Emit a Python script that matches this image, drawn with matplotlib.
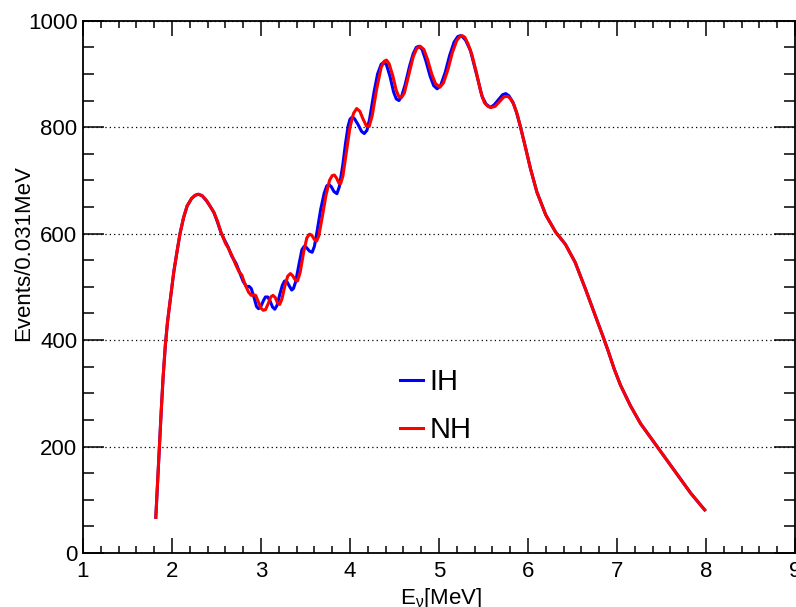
import numpy as np
import matplotlib
matplotlib.use("Agg")
import matplotlib.pyplot as plt
from matplotlib.ticker import MultipleLocator

plt.rcParams['font.family'] = ['Liberation Sans', 'DejaVu Sans']
plt.rcParams['mathtext.fontset'] = 'custom'
plt.rcParams['mathtext.rm'] = 'Liberation Sans'
plt.rcParams['mathtext.it'] = 'Liberation Sans'

## common rising edge of the spectrum
riseE = [1.818, 1.84, 1.86, 1.88, 1.90, 1.925, 1.95, 1.98, 2.02, 2.06, 2.09, 2.13, 2.17, 2.22, 2.26, 2.297]
riseN = [67, 140, 205, 270, 330, 390, 435, 475, 528, 570, 600, 630, 652, 666, 672, 674]

## common falling tail
tailE = [5.97, 6.028, 6.10, 6.20, 6.31, 6.42, 6.53, 6.65, 6.72, 6.78, 6.84, 6.90, 6.97, 7.04, 7.15, 7.265,
         7.45, 7.64, 7.83, 7.985]
tailN = [763, 722, 678, 635, 603, 580, 546, 494, 462, 435, 408, 380, 345, 315, 277, 243,
         200, 156, 112, 81]

## inverted hierarchy (blue), oscillating part
ihE = [2.34, 2.39, 2.43, 2.47, 2.51, 2.55, 2.59, 2.63, 2.67, 2.72, 2.76, 2.80, 2.84, 2.865,
       2.89, 2.92, 2.95, 2.972, 2.995, 3.03, 3.05, 3.075, 3.10, 3.13, 3.155, 3.18, 3.21, 3.24,
       3.265, 3.29, 3.32, 3.345, 3.365, 3.39, 3.43, 3.46, 3.485, 3.51, 3.545, 3.575, 3.60, 3.63,
       3.67, 3.71, 3.74, 3.765, 3.79, 3.82, 3.853, 3.88, 3.92, 3.95, 3.98, 4.00, 4.025, 4.05,
       4.09, 4.13, 4.16, 4.19, 4.22, 4.27, 4.31, 4.35, 4.38, 4.41, 4.45, 4.49, 4.52, 4.55,
       4.58, 4.62, 4.67, 4.71, 4.745, 4.775, 4.81, 4.85, 4.90, 4.94, 4.98, 5.02, 5.07, 5.12,
       5.17, 5.21, 5.24, 5.27, 5.30, 5.353, 5.43, 5.485, 5.53, 5.578, 5.62, 5.67, 5.715, 5.75,
       5.785, 5.83, 5.87, 5.916]
ihN = [671, 661, 651, 640, 622, 602, 588, 575, 558, 544, 527, 510, 500, 501,
       497, 481, 463, 459, 462, 475, 481, 481, 474, 462, 458, 465, 485, 503,
       511, 510, 501, 494, 497, 510, 545, 570, 576, 574, 567, 565, 576, 604,
       645, 676, 690, 692, 688, 679, 675, 688, 730, 770, 803, 815, 819, 816,
       805, 792, 788, 794, 815, 866, 900, 918, 922, 917, 895, 866, 853, 850,
       858, 880, 915, 938, 950, 952, 946, 926, 896, 878, 872, 879, 903, 935,
       960, 970, 972, 969, 963, 944, 894, 857, 843, 837, 842, 852, 861, 863,
       859, 847, 828, 800]

## normal hierarchy (red), oscillating part
nhE = [2.34, 2.39, 2.44, 2.47, 2.51, 2.55, 2.60, 2.635, 2.67, 2.72, 2.755, 2.785, 2.82, 2.86,
       2.89, 2.915, 2.94, 2.97, 3.00, 3.025, 3.05, 3.08, 3.11, 3.135, 3.16, 3.185, 3.21, 3.235,
       3.27, 3.30, 3.33, 3.355, 3.385, 3.41, 3.44, 3.48, 3.515, 3.545, 3.57, 3.60, 3.625, 3.65,
       3.69, 3.73, 3.77, 3.80, 3.825, 3.85, 3.875, 3.895, 3.92, 3.96, 4.00, 4.04, 4.075, 4.11,
       4.15, 4.185, 4.215, 4.25, 4.30, 4.35, 4.385, 4.41, 4.44, 4.48, 4.52, 4.55, 4.58, 4.61,
       4.66, 4.71, 4.75, 4.79, 4.83, 4.87, 4.92, 4.96, 5.01, 5.05, 5.10, 5.15, 5.20, 5.235,
       5.26, 5.29, 5.33, 5.37, 5.42, 5.47, 5.51, 5.55, 5.585, 5.63, 5.68, 5.73, 5.77, 5.80,
       5.84, 5.88, 5.916]
nhN = [671, 662, 648, 640, 624, 603, 582, 572, 560, 540, 528, 522, 505, 490,
       484, 485, 484, 472, 460, 456, 457, 468, 481, 484, 480, 470, 467, 477,
       503, 520, 525, 521, 513, 511, 527, 566, 592, 599, 597, 589, 586, 596,
       633, 672, 700, 709, 710, 704, 695, 694, 708, 754, 800, 826, 835, 830,
       814, 802, 801, 822, 872, 912, 924, 926, 919, 897, 869, 857, 856, 864,
       898, 932, 948, 952, 946, 928, 899, 882, 875, 883, 908, 940, 963, 970,
       972, 969, 955, 936, 903, 866, 846, 839, 837, 839, 848, 857, 858, 854,
       843, 824, 800]

fig = plt.figure(figsize=(7.96, 6.07), dpi=100)
ax = fig.add_axes([83/796, 54/607, 712/796, 532.3/607])

ax.plot(riseE + ihE + tailE, riseN + ihN + tailN, color='#0000ff', lw=2.2, label='IH')
ax.plot(riseE + nhE + tailE, riseN + nhN + tailN, color='#ff0000', lw=2.2, label='NH')

ax.set_xlim(1, 9)
ax.set_ylim(0, 1000)
ax.xaxis.set_major_locator(MultipleLocator(1))
ax.xaxis.set_minor_locator(MultipleLocator(0.2))
ax.yaxis.set_major_locator(MultipleLocator(200))
ax.yaxis.set_minor_locator(MultipleLocator(50))
ax.tick_params(which='both', direction='in', top=True, right=True, width=1.1, labelsize=16)
ax.tick_params(axis='x', which='major', length=11, pad=6)
ax.tick_params(axis='x', which='minor', length=5)
ax.tick_params(axis='y', which='major', length=15, pad=4)
ax.tick_params(axis='y', which='minor', length=8)
for s in ax.spines.values():
    s.set_linewidth(1.3)
ax.yaxis.grid(True, which='major', linestyle=(0, (1, 2.5)), color='black', lw=0.9)

ax.legend(loc='upper left', bbox_to_anchor=(0.429, 0.37), frameon=False, fontsize=21,
          handlelength=0.8, handletextpad=0.2, labelspacing=0.7, borderaxespad=0)

fig.text(0.030, 0.583, 'Events/0.031MeV', rotation=90, fontsize=16, ha='center', va='center')
fig.text(400/796, 3/607, r'E$_{\nu}$[MeV]', fontsize=16, ha='left', va='baseline')

fig.savefig('out.png', dpi=100)
